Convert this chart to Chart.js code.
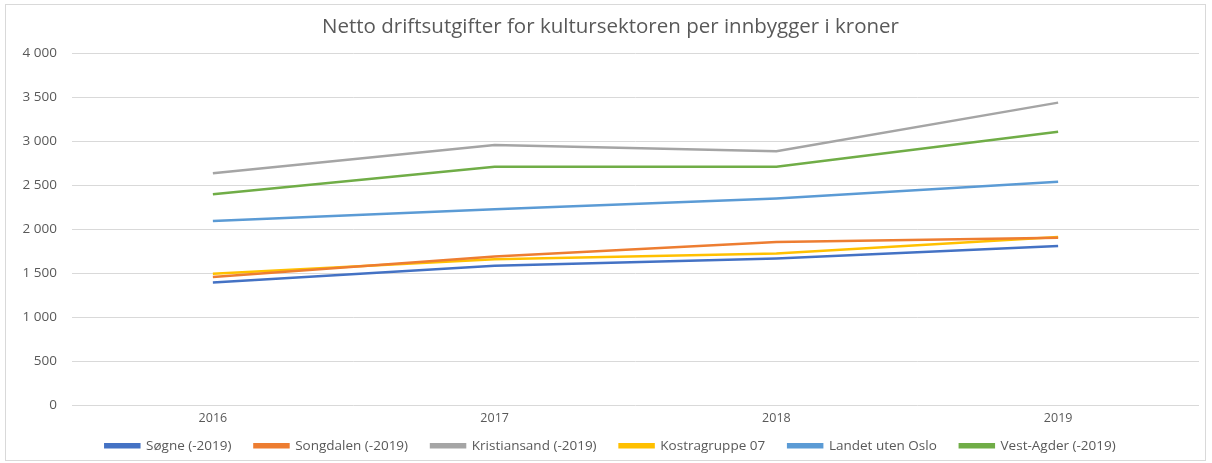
<!DOCTYPE html>
<html lang="no">
<head>
    <meta charset="UTF-8">
    <title>Netto driftsutgifter for kultursektoren</title>
    <script src="https://cdn.jsdelivr.net/npm/chart.js"></script>
    <style>
        body {
            margin: 0;
            background: #ffffff;
            font-family: "Open Sans", sans-serif;
        }
        .frame {
            position: absolute;
            left: 5px;
            top: 4px;
            width: 1199px;
            height: 455px;
            border: 1px solid #d9d9d9;
        }
        .chart-container {
            position: absolute;
            left: 0;
            top: 0;
            width: 1212px;
            height: 463px;
        }
    </style>
</head>
<body>
    <div class="frame"></div>
    <div class="chart-container">
        <canvas id="kulturChart"></canvas>
    </div>

    <script>
        // Data
        const years = ['2016', '2017', '2018', '2019'];
        const sogne = [1395, 1585, 1668, 1810];
        const songdalen = [1458, 1692, 1855, 1903];
        const kristiansand = [2636, 2955, 2886, 3437];
        const kostragruppe = [1496, 1659, 1725, 1913];
        const landet = [2095, 2227, 2348, 2538];
        const vestAgder = [2398, 2708, 2708, 3106];
        const yTicks = [0, 500, 1000, 1500, 2000, 2500, 3000, 3500, 4000];

        const textColor = '#595959';
        const gridColor = '#d9d9d9';
        const legendShift = 16; // legend sits closer to the axis labels than Chart.js allows

        function series(label, data, color) {
            return {
                label: label,
                data: data,
                borderColor: color,
                backgroundColor: color,
                borderWidth: 2.5,
                pointRadius: 0,
                tension: 0
            };
        }

        // pull the legend up without shrinking the horizontal spacing between items
        const tightLegend = {
            id: 'tightLegend',
            afterInit: function(chart) {
                const legend = chart.legend;
                const fit = legend.fit;
                const draw = legend.draw;
                legend.fit = function() {
                    fit.apply(this, arguments);
                    this.height -= legendShift;
                };
                legend.draw = function() {
                    const top = this.top;
                    this.top = top - legendShift;
                    draw.apply(this, arguments);
                    this.top = top;
                };
            }
        };

        const ctx = document.getElementById('kulturChart').getContext('2d');
        new Chart(ctx, {
            type: 'line',
            data: {
                labels: years,
                datasets: [
                    series('Søgne (-2019)', sogne, '#4472c4'),
                    series('Songdalen (-2019)', songdalen, '#ed7d31'),
                    series('Kristiansand (-2019)', kristiansand, '#a5a5a5'),
                    series('Kostragruppe 07', kostragruppe, '#ffc000'),
                    series('Landet uten Oslo', landet, '#5b9bd5'),
                    series('Vest-Agder (-2019)', vestAgder, '#70ad47')
                ]
            },
            options: {
                responsive: true,
                maintainAspectRatio: false,
                animation: false,
                layout: {
                    padding: { left: 22, right: 13, top: 0, bottom: 0.5 }
                },
                scales: {
                    x: {
                        offset: true,
                        grid: { display: false, drawTicks: false },
                        border: { display: false },
                        ticks: {
                            color: textColor,
                            padding: 5,
                            font: { family: 'Open Sans', size: 12.5 }
                        },
                        afterFit: function(scale) { scale.height = 26.5; }
                    },
                    y: {
                        min: 0,
                        max: 4000,
                        afterBuildTicks: function(scale) {
                            scale.ticks = yTicks.map(v => ({ value: v }));
                        },
                        grid: { color: gridColor, lineWidth: 1, drawTicks: false },
                        border: { display: false },
                        ticks: {
                            color: textColor,
                            padding: 15,
                            font: { family: 'Open Sans', size: 13.5 },
                            callback: function(value) {
                                return String(value).replace(/\B(?=(\d{3})+(?!\d))/g, ' ');
                            }
                        },
                        afterFit: function(scale) { scale.width = 50; }
                    }
                },
                plugins: {
                    title: {
                        display: true,
                        text: 'Netto driftsutgifter for kultursektoren per innbygger i kroner',
                        color: textColor,
                        font: { family: 'Open Sans', size: 20.5, weight: 'normal' },
                        padding: { top: 15, bottom: 13.4 }
                    },
                    legend: {
                        position: 'bottom',
                        labels: {
                            color: textColor,
                            boxWidth: 34,
                            boxHeight: 3,
                            padding: 23,
                            font: { family: 'Open Sans', size: 13.5 }
                        }
                    },
                    tooltip: { enabled: false }
                }
            },
            plugins: [tightLegend]
        });
    </script>
</body>
</html>
